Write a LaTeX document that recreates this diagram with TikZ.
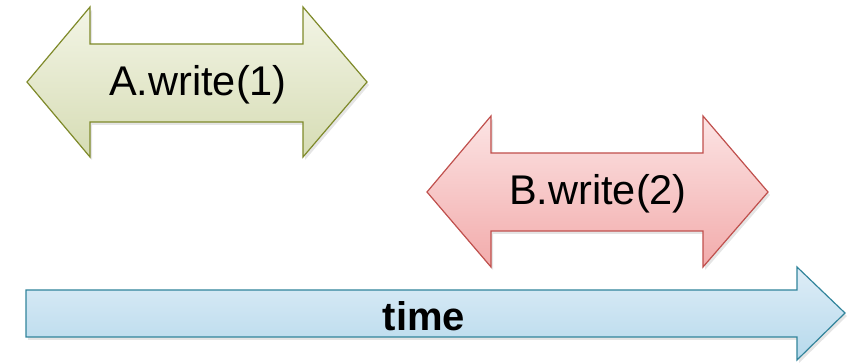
\documentclass[tikz,border=0pt]{standalone}
\usepackage{fontspec}
\setmainfont{Liberation Sans}
\definecolor{aline}{HTML}{7F8A2A}
\definecolor{atop}{HTML}{F3F5E6}
\definecolor{abot}{HTML}{D6DCB4}
\definecolor{bline}{HTML}{C0504D}
\definecolor{btop}{HTML}{FCE4E4}
\definecolor{bbot}{HTML}{F2ABAB}
\definecolor{tline}{HTML}{31849B}
\definecolor{ttop}{HTML}{DEEDF7}
\definecolor{tbot}{HTML}{B6D9EC}
\tikzset{
  arrowA/.style={draw=aline, line width=1.2pt, line join=miter, top color=atop, bottom color=abot},
  arrowB/.style={draw=bline, line width=1.2pt, line join=miter, top color=btop, bottom color=bbot},
  arrowT/.style={draw=tline, line width=1.2pt, line join=miter, top color=ttop, bottom color=tbot},
  shadowstyle/.style={fill=black, opacity=0.10},
  lbl/.style={inner sep=0pt, text=black, font=\fontsize{41.5}{48}\selectfont},
  tlbl/.style={inner sep=0pt, text=black, font=\fontsize{40}{46}\selectfont\bfseries}
}
\begin{document}
\begin{tikzpicture}[x=1pt,y=-1pt]
\useasboundingbox (0,0) rectangle (849,363);
% shadows
\fill[shadowstyle] (29,85) -- (92,10) -- (92,47) -- (305,47) -- (305,10) -- (369,85) -- (305,160) -- (305,125) -- (92,125) -- (92,160) -- cycle;
\fill[shadowstyle] (429,195) -- (493,119) -- (493,156) -- (705,156) -- (705,119) -- (770,195) -- (705,270) -- (705,234) -- (493,234) -- (493,270) -- cycle;
\fill[shadowstyle] (28,293) -- (799,293) -- (799,270) -- (847,316) -- (799,363) -- (799,340) -- (28,340) -- cycle;
% A arrow
\path[arrowA] (27,82) -- (90,7) -- (90,44) -- (303,44) -- (303,7) -- (367,82) -- (303,157) -- (303,122) -- (90,122) -- (90,157) -- cycle;
\node[lbl] (a) at (198,85) {A.write(1)};
% B arrow
\path[arrowB] (427,192) -- (491,116) -- (491,153) -- (703,153) -- (703,116) -- (768,192) -- (703,267) -- (703,231) -- (491,231) -- (491,267) -- cycle;
\node[lbl] (b) at (598,194) {B.write(2)};
% time arrow
\path[arrowT] (26,290) -- (797,290) -- (797,267) -- (845,313) -- (797,360) -- (797,337) -- (26,337) -- cycle;
\node[tlbl] (t) at (424,316) {time};
\end{tikzpicture}
\end{document}
